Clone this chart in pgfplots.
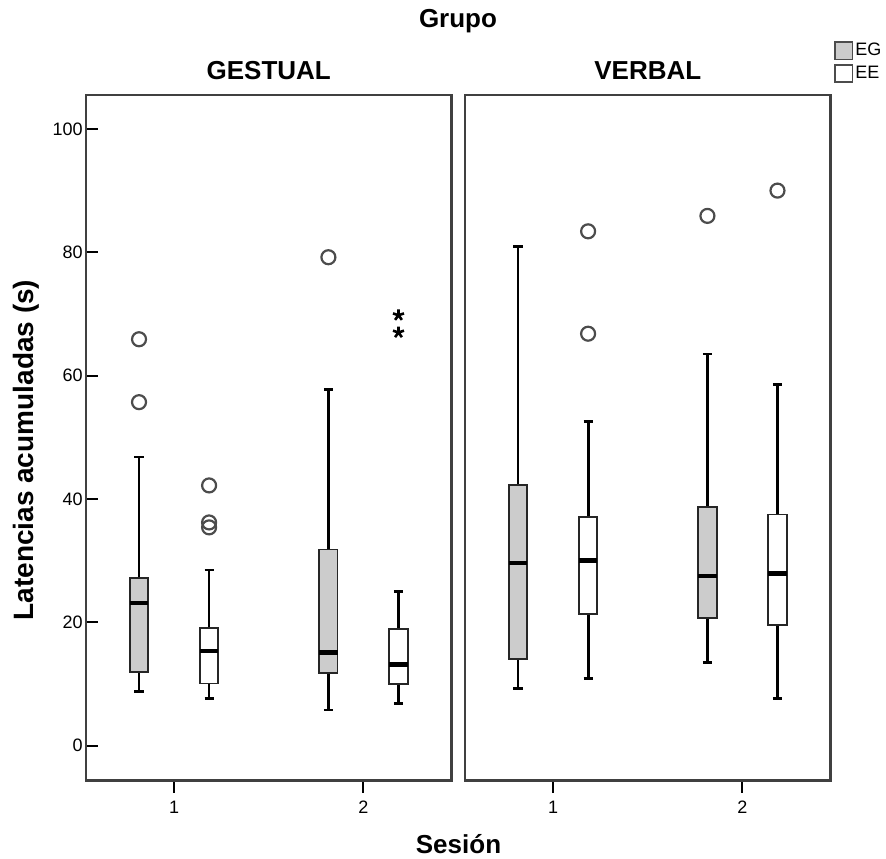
\documentclass[border=0pt]{standalone}
\usepackage{fontspec}
\setmainfont{Liberation Sans}
\usepackage{pgfplots}
\pgfplotsset{compat=1.18}
\usepgfplotslibrary{statistics}

\tikzset{ttl/.style={font=\fontsize{13}{15}\selectfont\bfseries}}
\pgfplotsset{
  panel/.style={
    scale only axis, width=182.75pt, height=342.75pt,
    xmin=0.535, xmax=2.465, ymin=-5.64, ymax=105.5,
    axis line style={draw=black!75, line width=1.3pt},
    xtick={1,2}, xtick pos=bottom, ytick pos=left,
    tick align=inside,
    major tick length=6pt,
    tick style={black, line width=1pt},
    every major x tick/.append style={yshift=-6pt},
    xticklabel style={font=\fontsize{9}{10}\selectfont, yshift=-6.7pt},
    yticklabel style={font=\fontsize{9}{10}\selectfont, inner xsep=1.5pt},
    /pgf/number format/assume math mode=true,
    every axis title shift=0pt,
    boxplot/draw direction=y,
    boxplot/box extend=0.097,
    boxplot/whisker extend=0.048,
    boxplot/every whisker/.style={black, line width=1.4pt},
    boxplot/every median/.style={black, line width=2.2pt},
    clip=false,
  },
  eg/.style={boxplot/every box/.style={draw=black!85, fill=gray!40, line width=0.9pt},
    mark=o, mark size=3.5pt, mark options={draw=black!70, line width=1.1pt, solid}},
  ee/.style={boxplot/every box/.style={draw=black!85, fill=white, line width=0.9pt},
    mark=o, mark size=3.5pt, mark options={draw=black!70, line width=1.1pt, solid}},
}

\begin{document}
\begin{tikzpicture}
\useasboundingbox (0,0) rectangle (443pt,429pt);

% ---------- GESTUAL ----------
\begin{axis}[panel,
  at={(43pt,38.75pt)}, anchor=south west,
  ytick={0,20,40,60,80,100},
  title={GESTUAL},
  title style={at={(rel axis cs:0.5,1.0229)}, anchor=base, yshift=0pt, inner sep=0pt, ttl},
  ylabel={Latencias acumuladas (s)},
  ylabel style={at={(rel axis cs:-0.1628,0.482)}, anchor=center, inner sep=0pt,
    font=\fontsize{14}{16}\selectfont\bfseries},
]
\addplot[eg, boxplot prepared={draw position=0.815,
  lower whisker=8.8, lower quartile=11.9, median=23.1,
  upper quartile=27.2, upper whisker=46.8}]
  coordinates {(0,65.9) (0,55.7)};
\addplot[ee, boxplot prepared={draw position=1.185,
  lower whisker=7.7, lower quartile=10.1, median=15.4,
  upper quartile=19.1, upper whisker=28.5}]
  coordinates {(0,42.2) (0,36.2) (0,35.4)};
\addplot[eg, boxplot prepared={draw position=1.815,
  lower whisker=5.8, lower quartile=11.8, median=15.1,
  upper quartile=31.8, upper whisker=57.8}]
  coordinates {(0,79.2)};
\addplot[ee, boxplot prepared={draw position=2.185,
  lower whisker=6.8, lower quartile=10.0, median=13.2,
  upper quartile=18.9, upper whisker=25.0}]
  coordinates {};
% extreme values
\addplot[only marks, mark=star, mark size=2.9pt, mark options={black, line width=1.3pt}]
  coordinates {(2.185,69.8) (2.185,67.0)};
\end{axis}

% ---------- VERBAL ----------
\begin{axis}[panel,
  at={(232.5pt,38.75pt)}, anchor=south west,
  ytick=\empty,
  title={VERBAL},
  title style={at={(rel axis cs:0.5,1.0229)}, anchor=base, yshift=0pt, inner sep=0pt, ttl},
  legend style={at={(rel axis cs:1.0096,1.0792)}, anchor=north west,
    draw=none, fill=none, inner sep=0pt, row sep=1.5pt,
    font=\fontsize{9}{10}\selectfont,
    nodes={inner sep=1pt}},
  legend cell align=left,
]
\addlegendimage{legend image code/.code={\draw[fill=gray!40, draw=black!70, line width=0.9pt] (0pt,-4.3pt) rectangle (8.6pt,4.3pt);}}
\addlegendentry{EG}
\addlegendimage{legend image code/.code={\draw[fill=white, draw=black!70, line width=0.9pt] (0pt,-4.3pt) rectangle (8.6pt,4.3pt);}}
\addlegendentry{EE}
\addplot[eg, boxplot prepared={draw position=0.815,
  lower whisker=9.3, lower quartile=14.0, median=29.6,
  upper quartile=42.3, upper whisker=80.9}]
  coordinates {};
\addplot[ee, boxplot prepared={draw position=1.185,
  lower whisker=10.9, lower quartile=21.3, median=30.0,
  upper quartile=37.1, upper whisker=52.6}]
  coordinates {(0,83.4) (0,66.8)};
\addplot[eg, boxplot prepared={draw position=1.815,
  lower whisker=13.5, lower quartile=20.7, median=27.5,
  upper quartile=38.7, upper whisker=63.5}]
  coordinates {(0,85.9)};
\addplot[ee, boxplot prepared={draw position=2.185,
  lower whisker=7.7, lower quartile=19.6, median=27.9,
  upper quartile=37.5, upper whisker=58.5}]
  coordinates {(0,90.0)};
\end{axis}

\node[anchor=base, ttl] at (229pt,415.3pt) {Grupo};
\node[anchor=base, ttl] at (229.25pt,2.5pt) {Sesión};
\end{tikzpicture}
\end{document}
